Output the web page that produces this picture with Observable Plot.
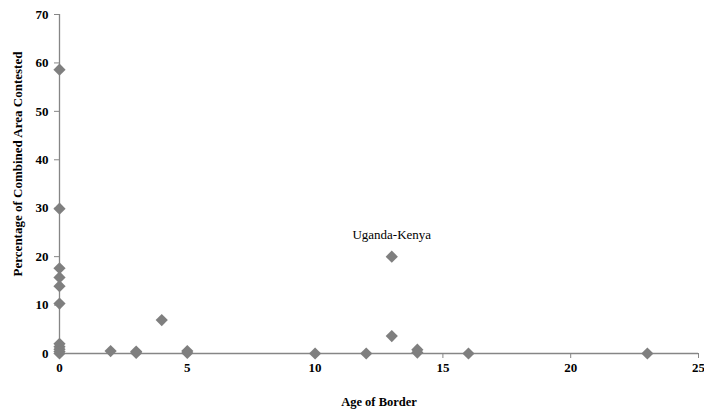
<!DOCTYPE html>
<html><head><meta charset="utf-8">
<script src="https://cdn.jsdelivr.net/npm/d3@7"></script>
<script src="https://cdn.jsdelivr.net/npm/@observablehq/plot@0.6"></script>
<style>body{margin:0;background:#fff}</style>
</head><body><div id="chart"></div>
<script>
const ages = [0,0,0,0,0,0,0,0,0,0,0, 2, 3,3, 4, 5,5, 10, 12, 13,13, 14,14, 16, 23];
const pcts = [58.6,29.9,17.6,15.7,13.9,10.3,2.0,1.4,0.9,0.4,0, 0.5, 0.4,0.1, 6.9, 0.5,0.1, 0, 0, 20.0,3.6, 0.8,0.2, 0, 0];
const labelText = ["Uganda-Kenya"];
const labelAge = [13];
const labelPct = [20];
const xTicks = [0,5,10,15,20,25];
const yTicks = [0,10,20,30,40,50,60,70];

const data = ages.map((a,i)=>({age:a, pct:pcts[i]}));
const labels = labelText.map((t,i)=>({t, age:labelAge[i], pct:labelPct[i]}));
const axisColor = "#868686";
const font = "Liberation Serif, Times New Roman, serif";

const chart = Plot.plot({
  width: 704, height: 409,
  marginLeft: 59, marginRight: 6, marginTop: 14, marginBottom: 56,
  style: {fontFamily: font, fontSize: "12px", color: "#000", background: "#fff"},
  x: {domain: [0,25], ticks: xTicks},
  y: {domain: [0,70], ticks: yTicks},
  marks: [
    Plot.ruleY([0], {stroke: axisColor, strokeWidth: 1.3}),
    Plot.ruleX([0], {stroke: axisColor, strokeWidth: 1.3}),
    Plot.axisX({ticks: xTicks, tickSize: 5, tickPadding: 4, stroke: axisColor, fontWeight: "bold", fontSize: 13, label: null}),
    Plot.axisY({ticks: yTicks, tickSize: 5, tickPadding: 6, stroke: axisColor, fontWeight: "bold", fontSize: 13, label: null}),
    Plot.dot(data, {x:"age", y:"pct", symbol:"diamond2", r: 5.5, fill:"#7f7f7f", stroke:"none"}),
    Plot.text(labels, {x:"age", y:"pct", text:"t", dy:-22, fontSize:13, fill:"#000"}),
    Plot.text(["Age of Border"], {frameAnchor:"bottom", dy: 52, fontWeight:"bold", fontSize:12.5}),
    Plot.text(["Percentage of Combined Area Contested"], {frameAnchor:"left", dx:-42, dy:-20, rotate:-90, textAnchor:"middle", fontWeight:"bold", fontSize:13})
  ]
});
document.getElementById("chart").appendChild(chart);
</script></body></html>
